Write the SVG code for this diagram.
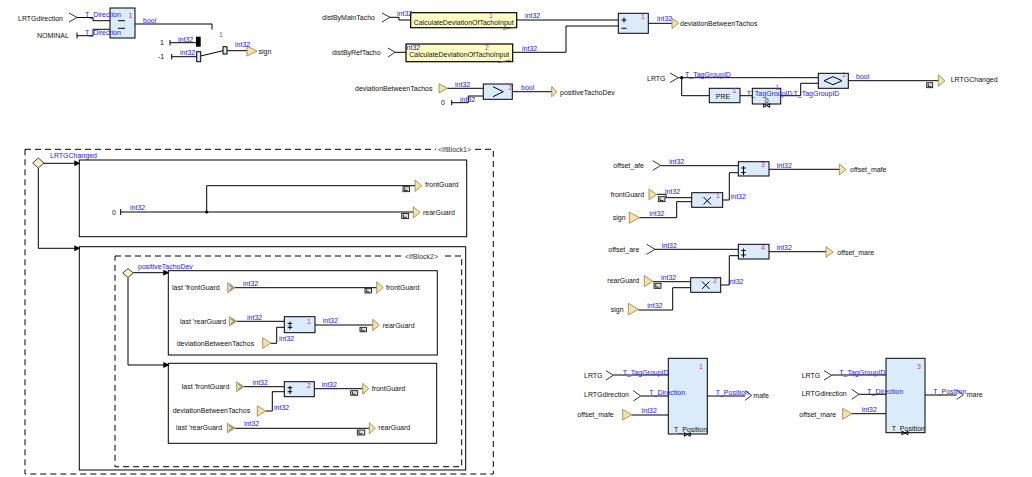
<svg xmlns="http://www.w3.org/2000/svg" width="1032" height="477" viewBox="0 0 1032 477">
<style>
text{font-family:"Liberation Sans",Arial,sans-serif;font-size:7px;fill:#111}
.ty{fill:#2222ee}
.n{fill:#c030c0}
.ib{fill:#333}
.w{fill:none;stroke:#000;stroke-width:1}
.blk{fill:#dcebfa;stroke:#000;stroke-width:1}
.yb{fill:#ffffc4;stroke:#000;stroke-width:1.2}
.tri{fill:#f6e3a2;stroke:#8f8050;stroke-width:0.8}
.lt{fill:none;stroke:#888;stroke-width:1.2}
.chev{fill:none;stroke:#333;stroke-width:1}
.sym{fill:none;stroke:#000;stroke-width:1}
.box{fill:none;stroke:#000;stroke-width:1}
.dash{fill:none;stroke:#000;stroke-width:1;stroke-dasharray:6,4}
.lic{fill:#ddd;stroke:#000;stroke-width:0.8}
.dia{fill:#fdf0c8;stroke:#444;stroke-width:1}
</style>
<defs>
<marker id="ar" markerWidth="6" markerHeight="6" refX="5" refY="3" orient="auto" markerUnits="userSpaceOnUse">
<path d="M0,0 L6,3 L0,6 Z" fill="#000"/>
</marker>
</defs>

<g id="frames">
<rect class="dash" x="25" y="149.3" width="468.3" height="324.7"/>
<rect x="436" y="146" width="39" height="7" fill="#fff"/>
<text class="ib" x="438" y="151.8">&lt;IfBlock1&gt;</text>
<rect class="box" x="79.3" y="160" width="387.4" height="76.7"/>
<rect class="box" x="79.3" y="246.7" width="386.4" height="223.3"/>
<rect class="dash" x="115" y="256" width="346.7" height="210.7"/>
<rect x="403" y="252.5" width="40" height="7" fill="#fff"/>
<text class="ib" x="405" y="258.8">&lt;IfBlock2&gt;</text>
<rect class="box" x="168.3" y="270.7" width="269" height="84.3"/>
<rect class="box" x="168.3" y="363.3" width="268.4" height="80"/>
</g>

<g id="connectors">
<polyline class="w" points="77,17.5 93,17.5 93,20.7 110,20.7"/>
<polyline class="w" points="77,35.7 93,35.7 93,29.3 110,29.3"/>
<polyline class="w" points="135,24 212,24 212,29.5"/>
<line class="w" x1="170" y1="42.7" x2="196" y2="42.7"/>
<line class="w" x1="171.7" y1="56.7" x2="196.7" y2="56.7"/>
<line class="w" x1="200.7" y1="56" x2="223" y2="50.7"/>
<line class="w" x1="227" y1="50.7" x2="247" y2="50.7"/>
<polyline class="w" points="390,17.3 399,17.3 399,20 410.7,20"/>
<line class="w" x1="516.7" y1="20" x2="618.3" y2="20"/>
<line class="w" x1="395" y1="52.3" x2="406" y2="52.3"/>
<polyline class="w" points="512.7,52.3 566,52.3 566,26 618.3,26"/>
<line class="w" x1="648.3" y1="23.3" x2="672" y2="23.3"/>
<line class="w" x1="447.3" y1="88.3" x2="483.3" y2="88.3"/>
<polyline class="w" points="451.7,102.7 468.3,102.7 468.3,96 483.3,96"/>
<line class="w" x1="512.3" y1="91.7" x2="551.7" y2="91.7"/>
<line class="w" x1="678.3" y1="77.7" x2="818.3" y2="77.7"/>
<polyline class="w" points="681.7,77.7 681.7,95.7 709.3,95.7"/>
<line class="w" x1="740" y1="95.7" x2="752.3" y2="95.7"/>
<polyline class="w" points="780.7,95.7 800.7,95.7 800.7,83.3 818.3,83.3"/>
<line class="w" x1="848.3" y1="80.7" x2="938.3" y2="80.7"/>
<circle cx="681.7" cy="77.7" r="1.6" fill="#000"/>
<polyline class="w" points="44,163.3 79.3,163.3" marker-end="url(#ar)"/>
<polyline class="w" points="38.3,168 38.3,248.3 79.3,248.3" marker-end="url(#ar)"/>
<line class="w" x1="120.7" y1="212" x2="413.3" y2="212"/>
<polyline class="w" points="206.7,212 206.7,185.7 415,185.7"/>
<circle cx="206.7" cy="212" r="1.6" fill="#000"/>
<polyline class="w" points="133.3,272.7 168.3,272.7" marker-end="url(#ar)"/>
<polyline class="w" points="128,277.5 128,365 168.3,365" marker-end="url(#ar)"/>
<line class="w" x1="235" y1="287.7" x2="376.7" y2="287.7"/>
<line class="w" x1="236.7" y1="321.3" x2="284.3" y2="321.3"/>
<polyline class="w" points="270.7,343.3 276.7,343.3 276.7,327.3 284.3,327.3"/>
<line class="w" x1="315" y1="325" x2="372.7" y2="325"/>
<line class="w" x1="244" y1="386.7" x2="284.3" y2="386.7"/>
<polyline class="w" points="265.7,411 272.3,411 272.3,391.7 284.3,391.7"/>
<line class="w" x1="314.3" y1="388.7" x2="362.7" y2="388.7"/>
<line class="w" x1="235.3" y1="428.3" x2="369.3" y2="428.3"/>
<line class="w" x1="660.7" y1="165.7" x2="738.3" y2="165.7"/>
<line class="w" x1="769" y1="169.3" x2="839.3" y2="169.3"/>
<polyline class="w" points="656.7,194.3 666,194.3 666,197.7 691.7,197.7"/>
<polyline class="w" points="639.3,217.7 676.7,217.7 676.7,201.7 691.7,201.7"/>
<polyline class="w" points="722.7,200 729.3,200 729.3,172.7 738.3,172.7"/>
<line class="w" x1="655" y1="249.3" x2="738.3" y2="249.3"/>
<line class="w" x1="769" y1="251.7" x2="826" y2="251.7"/>
<line class="w" x1="652.7" y1="281.7" x2="690.7" y2="281.7"/>
<polyline class="w" points="638.3,310 672.7,310 672.7,287.7 690.7,287.7"/>
<polyline class="w" points="720.7,285 729.3,285 729.3,255.7 738.3,255.7"/>
<line class="w" x1="613.3" y1="375" x2="668.3" y2="375"/>
<line class="w" x1="640.7" y1="396" x2="668.3" y2="396"/>
<line class="w" x1="631.7" y1="415" x2="668.3" y2="415"/>
<line class="w" x1="707.3" y1="396" x2="745" y2="396"/>
<line class="w" x1="831.7" y1="375" x2="886" y2="375"/>
<line class="w" x1="859" y1="394.3" x2="886" y2="394.3"/>
<line class="w" x1="851.7" y1="413.7" x2="886" y2="413.7"/>
<line class="w" x1="925" y1="395" x2="956.7" y2="395"/>
</g>

<g id="in-LRTGdirection-1"><text x="18" y="20.5">LRTGdirection</text><polyline class="chev" points="69,13 77,17.5 69,22"/></g>
<g id="const-NOMINAL"><text x="37" y="38">NOMINAL</text><line class="w" x1="77" y1="32.5" x2="77" y2="38.5"/></g>
<g id="op-eq"><rect class="blk" x="110" y="8" width="25" height="30"/><line class="sym" x1="118" y1="20.7" x2="125" y2="20.7"/><line class="sym" x1="118" y1="28.3" x2="125" y2="28.3"/><text class="n" x="128.5" y="17.5">1</text></g>
<g id="op-ite"><text class="n" x="219" y="37">1</text><rect x="196" y="36.7" width="4.7" height="10" fill="#000"/><rect class="blk" x="196.7" y="51.7" width="4" height="10"/><rect class="blk" x="223" y="46.7" width="4" height="7.3"/></g>
<g id="const-1"><text x="160" y="44.5">1</text><line class="w" x1="170" y1="40" x2="170" y2="45.5"/></g>
<g id="const-m1"><text x="158" y="59">-1</text><line class="w" x1="171.7" y1="54" x2="171.7" y2="59.5"/></g>
<g id="out-sign"><polygon class="tri" points="247,46 257,51 247,56"/><text x="258.5" y="53.5">sign</text></g>

<g id="in-distByMainTacho"><text x="322" y="19.5">distByMainTacho</text><polyline class="chev" points="382,13 390,17.3 382,22"/></g>
<g id="op-calc1"><rect class="yb" x="410.7" y="12.7" width="106" height="15"/><text x="463.7" y="25" text-anchor="middle">CalculateDeviationOfTachoInput</text><text class="n" x="489" y="17.5">1</text><line x1="503" y1="29.5" x2="516" y2="27" stroke="#555" stroke-width="0.8"/></g>
<g id="in-distByRefTacho"><text x="332" y="54.5">distByRefTacho</text><polyline class="chev" points="388,48 395,52.3 388,57"/></g>
<g id="op-calc2"><rect class="yb" x="406" y="44" width="106.7" height="17.7"/><text x="459.3" y="56.5" text-anchor="middle">CalculateDeviationOfTachoInput</text><text class="n" x="485" y="49.5">2</text><line x1="498" y1="62.5" x2="511" y2="60" stroke="#555" stroke-width="0.8"/></g>
<g id="op-sub"><rect class="blk" x="618.3" y="13.3" width="30" height="20"/><line class="sym" x1="621.5" y1="20" x2="626.5" y2="20"/><line class="sym" x1="624" y1="17.5" x2="624" y2="22.5"/><line class="sym" x1="621.5" y1="28.3" x2="626.5" y2="28.3"/><text class="n" x="641" y="18.5">1</text></g>
<g id="out-deviationBetweenTachos"><polygon class="tri" points="672,18 678.5,23.3 672,28.6"/><text x="680" y="25.5">deviationBetweenTachos</text></g>

<g id="in-deviationBetweenTachos"><text x="355" y="90.5">deviationBetweenTachos</text><polygon class="tri" points="439,83.7 447.3,88.3 439,93"/></g>
<g id="const-0a"><text x="441" y="105">0</text><line class="w" x1="451.7" y1="100.2" x2="451.7" y2="105.2"/></g>
<g id="op-gt"><rect class="blk" x="483.3" y="84" width="29" height="15.3"/><polyline class="sym" points="493,86.7 503.3,91.7 493,96.7"/><text class="n" x="508.5" y="89.5">2</text></g>
<g id="out-positiveTachoDev"><polygon class="tri" points="551.7,86.7 557,91.7 551.7,96.7"/><text x="560" y="94.5">positiveTachoDev</text></g>

<g id="in-LRTG-1"><text x="647" y="80.5">LRTG</text><polyline class="chev" points="670,73 678.3,77.7 670,82.5"/></g>
<g id="op-pre"><rect class="blk" x="709.3" y="88.3" width="30.7" height="14.4"/><text x="723" y="98.5" text-anchor="middle">PRE</text><text class="n" x="732.5" y="93">1</text></g>
<g id="op-fby"><rect class="blk" x="752.3" y="88.3" width="28.4" height="15.7"/><text class="n" x="775.5" y="89.5">1</text><text x="764.7" y="102.5">0</text><path class="sym" d="M763.7,103.7 L769.7,107.3 L769.7,103.7 L763.7,107.3 Z"/></g>
<g id="op-neq"><rect class="blk" x="818.3" y="73.3" width="30" height="15"/><path class="sym" d="M824,80.7 L833,76.7 L842,80.7 L833,84.7 Z"/><text class="n" x="842" y="77">1</text></g>
<g id="out-LRTGChanged"><rect class="lic" x="926.7" y="82.7" width="6" height="5"/><polyline fill="none" stroke="#000" stroke-width="0.8" points="928.3,83.7 928.3,86.5 931.3,86.5"/><polygon class="tri" points="938.3,75 945,80.7 938.3,86.3"/><text x="950.7" y="81.5">LRTGChanged</text></g>

<g id="fork-ifBlock1"><path class="dia" d="M32.7,163 L38.3,158 L44,163 L38.3,168 Z"/></g>
<g id="const-0b"><text x="112" y="214.5">0</text><line class="w" x1="120.7" y1="209" x2="120.7" y2="215"/></g>
<g id="out-frontGuard-1"><rect class="lic" x="403" y="186.7" width="6.5" height="5"/><polyline fill="none" stroke="#000" stroke-width="0.8" points="404.7,187.7 404.7,190.5 407.7,190.5"/><polygon class="tri" points="415,180 421.7,185.7 415,191.5"/><text x="425" y="186.5">frontGuard</text></g>
<g id="out-rearGuard-1"><rect class="lic" x="401.7" y="213.5" width="7" height="5"/><polyline fill="none" stroke="#000" stroke-width="0.8" points="403.4,214.5 403.4,217.3 406.6,217.3"/><polygon class="tri" points="413.3,206.7 420,212.3 413.3,218"/><text x="423" y="214.5">rearGuard</text></g>

<g id="fork-ifBlock2"><path class="dia" d="M122.7,273 L128,268.5 L133.3,273 L128,277.5 Z"/></g>
<g id="in-last-frontGuard-1"><text x="172" y="290">last 'frontGuard</text><polygon class="tri" points="227.7,282.7 235,287.7 227.7,292.7"/><polyline class="lt" points="229.3,285 233,287.7 229.3,290.4"/></g>
<g id="out-frontGuard-2"><rect class="lic" x="365" y="288.3" width="6.5" height="4.7"/><polyline fill="none" stroke="#000" stroke-width="0.8" points="366.7,289.3 366.7,292 369.7,292"/><polygon class="tri" points="376.7,281.7 383.3,287.5 376.7,293.3"/><text x="386" y="289.5">frontGuard</text></g>
<g id="in-last-rearGuard-1"><text x="180" y="323.5">last 'rearGuard</text><polygon class="tri" points="229.3,316.7 236.7,321.3 229.3,326"/><polyline class="lt" points="230.9,318.8 234.6,321.3 230.9,323.9"/></g>
<g id="op-add1"><rect class="blk" x="284.3" y="316.7" width="30.7" height="16"/><line class="sym" x1="290" y1="321.5" x2="290" y2="329.5"/><line class="sym" x1="287.7" y1="323.5" x2="292.3" y2="323.5"/><line class="sym" x1="287.7" y1="327.3" x2="292.3" y2="327.3"/><text class="n" x="307" y="324">1</text></g>
<g id="in-deviationBetweenTachos-2"><text x="176.7" y="345.5">deviationBetweenTachos</text><polygon class="tri" points="262.7,337.7 270.7,343 262.7,348.3"/></g>
<g id="out-rearGuard-2"><rect class="lic" x="360" y="327.3" width="6.5" height="4.5"/><polyline fill="none" stroke="#000" stroke-width="0.8" points="361.7,328.2 361.7,330.8 364.7,330.8"/><polygon class="tri" points="372.7,319.3 379.3,325 372.7,330.7"/><text x="382.7" y="327.5">rearGuard</text></g>

<g id="in-last-frontGuard-2"><text x="181.7" y="389">last 'frontGuard</text><polygon class="tri" points="236.7,381.7 244,386.7 236.7,391.7"/><polyline class="lt" points="238.3,384 242,386.7 238.3,389.4"/></g>
<g id="op-add2"><rect class="blk" x="284.3" y="381.7" width="30" height="15"/><line class="sym" x1="290" y1="386" x2="290" y2="394"/><line class="sym" x1="287.7" y1="387.7" x2="292.3" y2="387.7"/><line class="sym" x1="287.7" y1="391.7" x2="292.3" y2="391.7"/><text class="n" x="307" y="387.5">2</text></g>
<g id="in-deviationBetweenTachos-3"><text x="172.7" y="412.5">deviationBetweenTachos</text><polygon class="tri" points="257.3,405.7 265.7,411 257.3,416.3"/></g>
<g id="out-frontGuard-3"><rect class="lic" x="350.7" y="390.7" width="7" height="4.5"/><polyline fill="none" stroke="#000" stroke-width="0.8" points="352.4,391.6 352.4,394.2 355.6,394.2"/><polygon class="tri" points="362.7,383.3 368.7,388.7 362.7,394"/><text x="371.7" y="391">frontGuard</text></g>
<g id="in-last-rearGuard-2"><text x="176" y="430">last 'rearGuard</text><polygon class="tri" points="227.3,423.3 235.3,428 227.3,432.7"/><polyline class="lt" points="228.9,425.5 232.9,428 228.9,430.5"/></g>
<g id="out-rearGuard-3"><rect class="lic" x="357.3" y="430" width="7.5" height="5"/><polyline fill="none" stroke="#000" stroke-width="0.8" points="359,431 359,433.8 362.5,433.8"/><polygon class="tri" points="369.3,422.7 375.3,428.3 369.3,434"/><text x="378.3" y="430">rearGuard</text></g>

<g id="in-offset_afe"><text x="613.3" y="167.5">offset_afe</text><polyline class="chev" points="652.7,160.7 660.7,165.5 652.7,170.3"/></g>
<g id="op-add3"><rect class="blk" x="738.3" y="161.7" width="30.7" height="14.3"/><line class="sym" x1="743.5" y1="166" x2="743.5" y2="175"/><line class="sym" x1="741.2" y1="168" x2="745.8" y2="168"/><line class="sym" x1="741.2" y1="172.5" x2="745.8" y2="172.5"/><text class="n" x="761" y="166.5">3</text></g>
<g id="out-offset_mafe"><polygon class="tri" points="839.3,164 846,169.5 839.3,175"/><text x="850" y="171.5">offset_mafe</text></g>
<g id="in-frontGuard"><text x="610.7" y="196.5">frontGuard</text><polygon class="tri" points="649,189.3 656.7,194.5 649,199.7"/><rect class="lic" x="658.3" y="196.7" width="6.7" height="5"/><polyline fill="none" stroke="#000" stroke-width="0.8" points="660,197.7 660,200.5 663.3,200.5"/></g>
<g id="op-mul1"><rect class="blk" x="691.7" y="192.7" width="31" height="14.6"/><line class="sym" x1="703.5" y1="197" x2="711" y2="204.5"/><line class="sym" x1="711" y1="197" x2="703.5" y2="204.5"/><text class="n" x="716" y="197.5">1</text></g>
<g id="in-sign-1"><text x="612.7" y="220">sign</text><polygon class="tri" points="629.3,212 639.3,217.7 629.3,223.3"/></g>

<g id="in-offset_are"><text x="608.3" y="251.5">offset_are</text><polyline class="chev" points="646.7,244.3 655,249.3 646.7,254.3"/></g>
<g id="op-add4"><rect class="blk" x="738.3" y="244.3" width="30.7" height="14.7"/><line class="sym" x1="743.5" y1="248.5" x2="743.5" y2="257.5"/><line class="sym" x1="741.2" y1="250.5" x2="745.8" y2="250.5"/><line class="sym" x1="741.2" y1="255" x2="745.8" y2="255"/><text class="n" x="761" y="250">4</text></g>
<g id="out-offset_mare"><polygon class="tri" points="826,246.7 833.3,252 826,257.3"/><text x="837.3" y="254.5">offset_mare</text></g>
<g id="in-rearGuard"><text x="607.3" y="283">rearGuard</text><polygon class="tri" points="644.3,275.7 652.7,281.2 644.3,286.7"/><rect class="lic" x="654" y="283.3" width="7" height="5"/><polyline fill="none" stroke="#000" stroke-width="0.8" points="655.7,284.3 655.7,287.1 659.2,287.1"/></g>
<g id="op-mul2"><rect class="blk" x="690.7" y="277.7" width="30" height="14.6"/><line class="sym" x1="702" y1="281.5" x2="709.5" y2="289"/><line class="sym" x1="709.5" y1="281.5" x2="702" y2="289"/><text class="n" x="713" y="282.5">2</text></g>
<g id="in-sign-2"><text x="610.7" y="311.5">sign</text><polygon class="tri" points="628.3,303.3 638.3,309.2 628.3,315"/></g>

<g id="in-LRTG-2"><text x="584" y="377.5">LRTG</text><polyline class="chev" points="606,370.7 613.3,375.3 606,380"/></g>
<g id="in-LRTGdirection-2"><text x="584" y="396.5">LRTGdirection</text><polyline class="chev" points="633.3,390.7 640.7,396 633.3,401"/></g>
<g id="in-offset_mafe"><text x="577.3" y="416.5">offset_mafe</text><polygon class="tri" points="622.7,409.3 631.7,414.7 622.7,420"/></g>
<g id="op-pos1"><rect class="blk" x="668.3" y="358.3" width="39" height="75.7"/><text class="n" x="699" y="369">1</text><text x="674" y="431.5" fill="#223">T_Position</text><path class="sym" d="M684.3,432.7 L690.3,436.3 L690.3,432.7 L684.3,436.3 Z"/></g>
<g id="out-mafe"><polyline class="chev" points="745,390.7 751.7,395.5 745,400.3"/><text x="753.3" y="397.5">mafe</text></g>

<g id="in-LRTG-3"><text x="801.7" y="377.5">LRTG</text><polyline class="chev" points="824,370.7 831.7,375.3 824,380"/></g>
<g id="in-LRTGdirection-3"><text x="801.7" y="395.5">LRTGdirection</text><polyline class="chev" points="851.7,389.3 859,394.3 851.7,399.3"/></g>
<g id="in-offset_mare"><text x="799.3" y="416.5">offset_mare</text><polygon class="tri" points="842.7,408.3 851.7,413.8 842.7,419.3"/></g>
<g id="op-pos3"><rect class="blk" x="886" y="358.3" width="39" height="74.4"/><text class="n" x="917" y="369">3</text><text x="891.7" y="430.5" fill="#223">T_Position</text><path class="sym" d="M902,431.2 L908,434.8 L908,431.2 L902,434.8 Z"/></g>
<g id="out-mare"><polyline class="chev" points="956.7,390 963.3,394.8 956.7,399.5"/><text x="966.7" y="396.5">mare</text></g>

<g id="connector-labels">
<text class="ty" x="85" y="17">T_Direction</text>
<text class="ty" x="85" y="34.5">T_Direction</text>
<text class="ty" x="143" y="23">bool</text>
<text class="ty" x="178" y="41.5">int32</text>
<text class="ty" x="180" y="54.5">int32</text>
<text class="ty" x="235" y="47">int32</text>
<text class="ty" x="397" y="16">int32</text>
<text class="ty" x="525" y="18">int32</text>
<text class="ty" x="405" y="49.5">int32</text>
<text class="ty" x="522" y="51">int32</text>
<text class="ty" x="657" y="21">int32</text>
<text class="ty" x="455" y="87">int32</text>
<text class="ty" x="460" y="101.5">int32</text>
<text class="ty" x="521" y="90">bool</text>
<text class="ty" x="685" y="76.5">T_TagGroupID</text>
<text class="ty" x="746.7" y="95.5">T_TagGroupID</text>
<text class="ty" x="793.5" y="95.5">T_TagGroupID</text>
<text class="ty" x="856" y="79">bool</text>
<text class="ty" x="50" y="158">LRTGChanged</text>
<text class="ty" x="130" y="210">int32</text>
<text class="ty" x="138" y="268.5">positiveTachoDev</text>
<text class="ty" x="243" y="285.5">int32</text>
<text class="ty" x="247" y="319.5">int32</text>
<text class="ty" x="279" y="341">int32</text>
<text class="ty" x="322.7" y="323">int32</text>
<text class="ty" x="252.7" y="384.5">int32</text>
<text class="ty" x="274" y="409.5">int32</text>
<text class="ty" x="321.7" y="386.5">int32</text>
<text class="ty" x="244" y="425.5">int32</text>
<text class="ty" x="669" y="164">int32</text>
<text class="ty" x="776.7" y="167.5">int32</text>
<text class="ty" x="665" y="193.5">int32</text>
<text class="ty" x="649.3" y="215.5">int32</text>
<text class="ty" x="730.7" y="199">int32</text>
<text class="ty" x="661.7" y="248">int32</text>
<text class="ty" x="776.7" y="250">int32</text>
<text class="ty" x="661" y="280">int32</text>
<text class="ty" x="647.3" y="308">int32</text>
<text class="ty" x="728.3" y="283.5">int32</text>
<text class="ty" x="622.7" y="374.5">T_TagGroupID</text>
<text class="ty" x="649.3" y="394.5">T_Direction</text>
<text class="ty" x="641.7" y="413">int32</text>
<text class="ty" x="715.7" y="395">T_Position</text>
<text class="ty" x="839.3" y="374.5">T_TagGroupID</text>
<text class="ty" x="867.3" y="394">T_Direction</text>
<text class="ty" x="861.7" y="412">int32</text>
<text class="ty" x="933.3" y="394">T_Position</text>
</g>
</svg>
